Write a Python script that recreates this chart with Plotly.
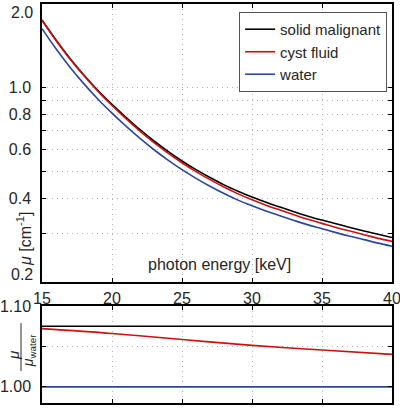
import plotly.graph_objects as go

# ---- data --------------------------------------------------------------------
energy = list(range(15, 41))  # photon energy [keV]

water_mu = [1.630, 1.380, 1.185, 1.032, 0.909, 0.810, 0.727, 0.657, 0.598, 0.549,
            0.507, 0.472, 0.442, 0.416, 0.394, 0.376, 0.360, 0.346, 0.333, 0.321,
            0.311, 0.301, 0.292, 0.284, 0.276, 0.269]
cyst_mu = [1.747, 1.478, 1.267, 1.103, 0.970, 0.863, 0.774, 0.698, 0.635, 0.582,
           0.537, 0.499, 0.467, 0.439, 0.415, 0.395, 0.378, 0.363, 0.349, 0.336,
           0.325, 0.314, 0.305, 0.296, 0.287, 0.280]
solid_mu = [1.752, 1.484, 1.274, 1.109, 0.977, 0.871, 0.782, 0.706, 0.643, 0.590,
            0.545, 0.507, 0.475, 0.447, 0.424, 0.404, 0.387, 0.372, 0.358, 0.345,
            0.334, 0.324, 0.314, 0.305, 0.297, 0.289]

ratio_energy = [15, 20, 25, 30, 35, 40]
cyst_ratio = [1.072, 1.066, 1.0586, 1.0513, 1.0455, 1.0402]
solid_ratio = [1.075, 1.075, 1.075, 1.075, 1.075, 1.075]
water_ratio = [1.00, 1.00, 1.00, 1.00, 1.00, 1.00]

x_ticks = [15, 20, 25, 30, 35, 40]
mu_ticks = [0.2, 0.3, 0.4, 0.5, 0.6, 0.7, 0.8, 0.9, 1.0, 2.0]
mu_labels = ['', '', '0.4', '', '0.6', '', '0.8', '', '1.0', '']
ratio_ticks = [1.00, 1.05, 1.10]
ratio_labels = ['1.00', '', '1.10']

BLACK, RED, BLUE = '#000000', '#d01010', '#2a46a0'
FONT = 'Liberation Sans, Arial, sans-serif'
TXT = '#262626'

fig = go.Figure()
for name, ys, col in [('solid malignant', solid_mu, BLACK),
                      ('cyst fluid', cyst_mu, RED),
                      ('water', water_mu, BLUE)]:
    fig.add_trace(go.Scatter(x=energy, y=ys, name=name, mode='lines',
                             line=dict(color=col, width=1.6, shape='spline'),
                             xaxis='x', yaxis='y'))

for ys, col in [(solid_ratio, BLACK), (cyst_ratio, RED), (water_ratio, BLUE)]:
    fig.add_trace(go.Scatter(x=ratio_energy, y=ys, mode='lines', showlegend=False,
                             line=dict(color=col, width=1.6, shape='spline'),
                             xaxis='x2', yaxis='y2'))

axis_common = dict(
    showline=True, linecolor='black', linewidth=1.5, mirror='ticks',
    ticks='inside', ticklen=4, tickcolor='black', automargin=False,
    showgrid=True, gridcolor='#b4b4b4', griddash='1px,4px', gridwidth=1,
    zeroline=False, ticklabeloverflow='allow',
)

fig.update_layout(
    width=400, height=410,
    margin=dict(l=42, r=8, t=4, b=7),
    paper_bgcolor='white', plot_bgcolor='white',
    font=dict(family=FONT, size=16, color=TXT),
    xaxis=dict(axis_common, domain=[0, 1], range=[15, 40], anchor='y',
               tickvals=x_ticks, ticklabelstandoff=1),
    yaxis=dict(axis_common, domain=[0.3033, 1], type='log',
               range=[-0.69897, 0.30103], anchor='x',
               tickvals=mu_ticks, ticktext=mu_labels, ticklabelstandoff=6),
    xaxis2=dict(axis_common, domain=[0, 1], range=[15, 40], anchor='y2',
                tickvals=x_ticks, showticklabels=False),
    yaxis2=dict(axis_common, domain=[0, 0.2431], range=[0.98, 1.10],
                anchor='x2', tickvals=ratio_ticks, ticktext=ratio_labels,
                ticklabelstandoff=6),
    legend=dict(x=0.986, y=0.98, xanchor='right', yanchor='top',
                bgcolor='white', bordercolor='#555555', borderwidth=1,
                font=dict(size=15, color=TXT), tracegroupgap=0,
                itemwidth=30),
)

# end labels of the log axis sit a little inside the frame, as in the reference
for txt, yy in [('2.0', 0.978), ('0.2', 0.323)]:
    fig.add_annotation(text=txt, xref='paper', yref='paper', x=-0.02, y=yy,
                       xanchor='right', yanchor='middle', showarrow=False,
                       font=dict(size=16, color=TXT))

# axis titles placed like in the reference
fig.add_annotation(text='photon energy [keV]', xref='paper', yref='paper',
                   x=0.506, y=0.346, xanchor='center', yanchor='middle',
                   showarrow=False, font=dict(size=16, color=TXT))
fig.add_annotation(text='<i>μ</i> [cm<sup>-1</sup>]', xref='paper', yref='paper',
                   x=-0.05, y=0.41, xanchor='center', yanchor='middle',
                   textangle=-90, showarrow=False, font=dict(size=16, color=TXT))
# fraction mu / mu_water on the ratio panel
fig.add_annotation(text='<i>μ</i>', xref='paper', yref='paper',
                   x=-0.083, y=0.12, xanchor='center', yanchor='middle',
                   textangle=-90, showarrow=False, font=dict(size=15, color=TXT))
fig.add_annotation(text='<i>μ</i><sub>water</sub>', xref='paper', yref='paper',
                   x=-0.037, y=0.13, xanchor='center', yanchor='middle',
                   textangle=-90, showarrow=False, font=dict(size=14, color=TXT))
fig.add_shape(type='line', xref='paper', yref='paper',
              x0=-0.06, x1=-0.06, y0=0.08, y1=0.2,
              line=dict(color=TXT, width=1))

# the page body has a default 8px margin; drop it so the figure fills the window
fig.write_html('out.html', config={'displayModeBar': False},
               post_script="document.body.style.margin='0';")
